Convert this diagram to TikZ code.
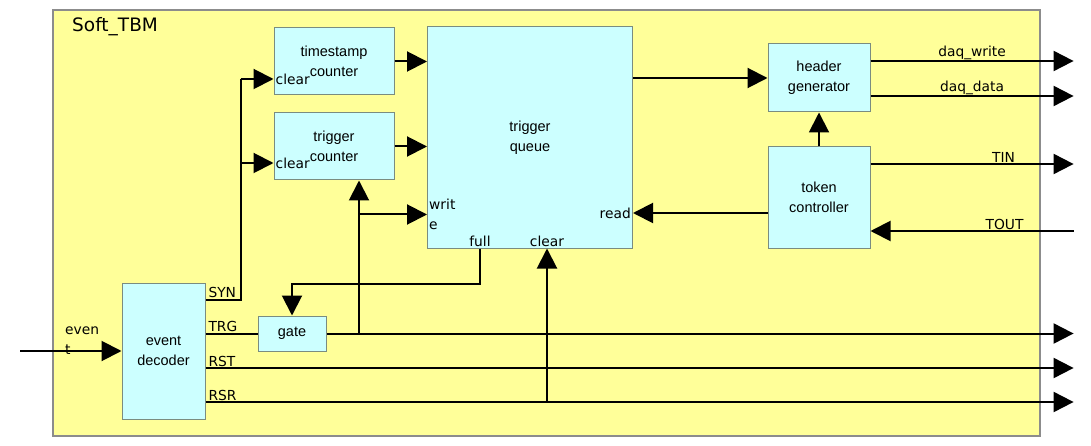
\documentclass[tikz,border=0pt]{standalone}
\usepackage{fontspec}
\setmainfont{Liberation Sans}
\newfontfamily\portfont{DejaVu Sans}
\usetikzlibrary{arrows.meta}
\definecolor{tbmfill}{HTML}{FFFF99}
\definecolor{tbmline}{HTML}{8C8C8C}
\definecolor{blkfill}{HTML}{CCFFFF}
\definecolor{blkline}{HTML}{7A8C80}

\begin{document}
\begin{tikzpicture}[x=1pt,y=-1pt,>={Triangle[length=20pt,width=20pt]},
    blk/.style={shape=rectangle,draw=blkline,fill=blkfill,line width=1pt,align=center,inner sep=0pt,font=\fontsize{14.5}{20}\selectfont},
    sig/.style={line width=2pt},
    lbl/.style={inner sep=2pt,font=\portfont\fontsize{13.8}{20}\selectfont},
    tag/.style={lbl,inner ysep=0.5pt}]
    \useasboundingbox (0,0) rectangle (1091,446);
    \node[shape=rectangle,draw=tbmline,fill=tbmfill,line width=1.2pt,minimum width=987,minimum height=426] (tbm) at (546.5,223) {};
    \node[anchor=west,inner sep=0pt,font=\portfont\fontsize{18.5}{20}\selectfont] (title) at (72,27) {Soft\_TBM};
    \node[blk,minimum width=120,minimum height=67] (tsc) at (334,61.5) {timestamp\\counter};
    \node[blk,minimum width=120,minimum height=67] (trc) at (334,146.5) {trigger\\counter};
    \node[blk,minimum width=205,minimum height=221] (tq) at (530,137.5) {trigger\\queue};
    \node[blk,minimum width=102,minimum height=68] (hg) at (819,78) {header\\generator};
    \node[blk,minimum width=102,minimum height=101] (tc) at (819,197.5) {token\\controller};
    \node[blk,minimum width=83,minimum height=136] (ed) at (163.5,351) {event\\decoder};
    \node[blk,minimum width=68,minimum height=35] (gate) at (292,333.5) {gate};
    \coordinate (rx) at ([xshift=33pt]tbm.east);
    \coordinate (evin) at (20,351);
    \coordinate (wr) at ([yshift=34pt]tq.south west);
    \coordinate (rd) at ([yshift=-15.5pt]tc.west);
    \coordinate (j) at ([xshift=25pt]trc.south |- gate.east);
    \node[lbl,anchor=west] at ([yshift=-17.5pt]tsc.west) {clear};
    \node[lbl,anchor=west] at ([yshift=-16.5pt]trc.west) {clear};
    \node[lbl,anchor=west,align=left] at (wr) {writ\\e};
    \node[lbl,anchor=east] at (rd -| tq.east) {read};
    \node[lbl,anchor=south] at ([xshift=-50pt]tq.south) {full};
    \node[lbl,anchor=south] at ([xshift=17pt]tq.south) {clear};
    \node[lbl,anchor=west,align=left] at (63,341) {even\\t};
    \draw[sig,->] (evin) -- (ed.west);
    \draw[sig] ([yshift=-17pt]ed.north east) node[tag,above right] {SYN} -| ([xshift=-33pt,yshift=-17.5pt]tsc.west);
    \draw[sig,->] ([xshift=-33pt,yshift=-17.5pt]tsc.west) -- ([yshift=-17.5pt]tsc.west);
    \draw[sig,->] ([xshift=-33pt,yshift=-16.5pt]trc.west) -- ([yshift=-16.5pt]trc.west);
    \draw[sig] (gate.west -| ed.east) node[tag,above right] {TRG} -- (gate.west);
    \draw[sig,->] (gate.east) -- (gate.east -| rx);
    \draw[sig,->] ([yshift=-17pt]ed.east) node[tag,above right] {RST} -- ([yshift=-17pt]ed.east -| rx);
    \draw[sig,->] ([yshift=-51pt]ed.east) node[tag,above right] {RSR} -- ([yshift=-51pt]ed.east -| rx);
    \draw[sig,->] (j) -- ([xshift=25pt]trc.south);
    \draw[sig,->] (j |- wr) -- (wr);
    \draw[sig,->] ([xshift=-50pt]tq.south) -- ++(0,35) -| (gate.north);
    \draw[sig,->] ([xshift=17pt]tq.south |- 0,402) -- ([xshift=17pt]tq.south);
    \draw[sig,->] (tsc.east) -- (tsc.east -| tq.west);
    \draw[sig,->] (trc.east) -- (trc.east -| tq.west);
    \draw[sig,->] (hg.west -| tq.east) -- (hg.west);
    \draw[sig,->] (rd) -- (rd -| tq.east);
    \draw[sig,->] (tc.north) -- (hg.south);
    \draw[sig,->] ([yshift=17pt]hg.east) -- node[tag,above] {daq\_write} ([yshift=17pt]hg.east -| rx);
    \draw[sig,->] ([yshift=-18pt]hg.east) -- node[tag,above] {daq\_data} ([yshift=-18pt]hg.east -| rx);
    \draw[sig,->] ([yshift=33.5pt]tc.east) -- node[tag,above,pos=0.655] {TIN} ([yshift=33.5pt]tc.east -| rx);
    \draw[sig,->] ([yshift=-33.5pt]tc.east -| rx) -- node[tag,above,pos=0.34] {TOUT} ([yshift=-33.5pt]tc.east);
\end{tikzpicture}
\end{document}
